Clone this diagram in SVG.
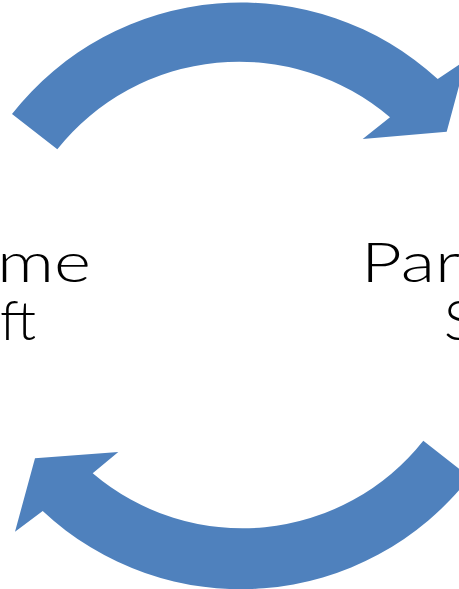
<svg xmlns="http://www.w3.org/2000/svg" width="459" height="589" viewBox="0 0 459 589">
  <style>
    .arrow { fill: #4F81BD; stroke: none; }
    .label { font-family: "Lato", "Liberation Sans", "DejaVu Sans", sans-serif; font-weight: 300; font-size: 56px; fill: #000000; }
  </style>
  <rect x="0" y="0" width="459" height="589" fill="#FFFFFF"/>
  <g id="connectors">
    <path id="arrow-top" class="arrow" d="M 12,114 A 291 291 0 0 1 437.7,79 L 466,60 L 446.7,131.7 L 362.7,139 L 390,117.3 A 232.5 232.5 0 0 0 57.3,149.3 Z"/>
    <path id="arrow-bottom" class="arrow" d="M 423.3,440.7 L 469.7,477.3 A 290 290 0 0 1 42.7,511 L 15,531.7 L 35,458.3 L 118.3,452 L 92.7,473.3 A 230.8 230.8 0 0 0 423.3,440.7 Z"/>
  </g>
  <g id="node-left">
    <text class="label" x="-3" y="282" textLength="94" lengthAdjust="spacingAndGlyphs">me</text>
    <text class="label" x="0" y="340" textLength="36" lengthAdjust="spacingAndGlyphs">ft</text>
  </g>
  <g id="node-right">
    <text class="label" x="361" y="282" textLength="99" lengthAdjust="spacingAndGlyphs">Par</text>
    <text class="label" x="444" y="340">S</text>
  </g>
</svg>
